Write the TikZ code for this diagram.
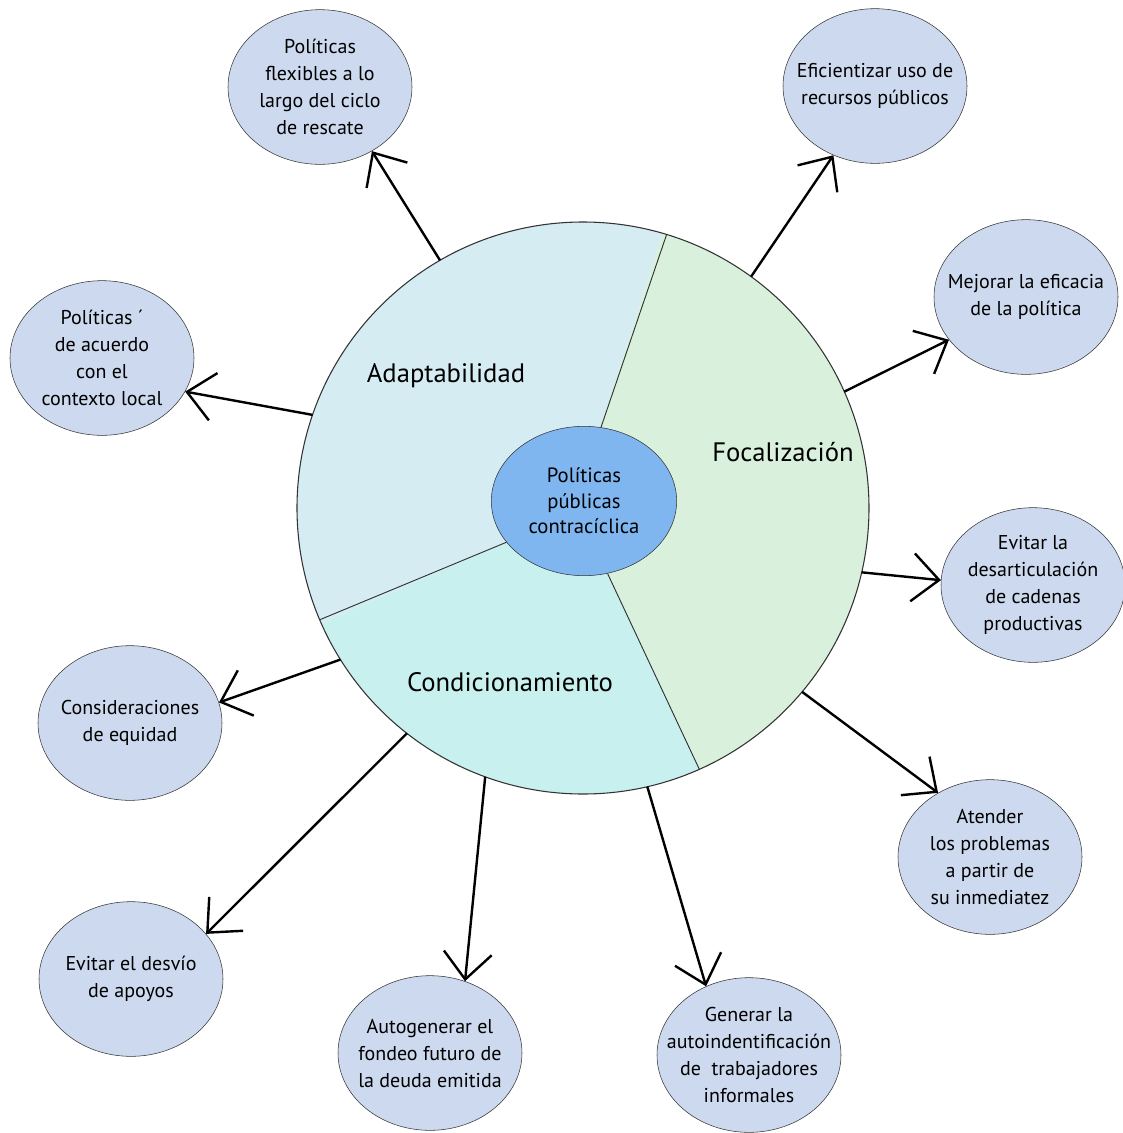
\documentclass[tikz,border=0pt]{standalone}
\usepackage{fontspec}
\setmainfont{PT Sans}
\usetikzlibrary{shapes.geometric,arrows.meta,backgrounds}
\definecolor{bubblefill}{HTML}{CDD9EE}
\definecolor{hubfill}{HTML}{7FB6EF}
\definecolor{adaptfill}{HTML}{D6ECF3}
\definecolor{condfill}{HTML}{C8F0EE}
\definecolor{focfill}{HTML}{D9F1DC}
\newcommand{\bubblefont}{\fontsize{15}{20.25}\selectfont}
\newcommand{\hubfont}{\fontsize{15.5}{19}\selectfont}
\newcommand{\rescbubble}[3] {\node at (#1) (#2) [bubble] {#3};}
\newcommand{\rescarrow}[2] {\draw [outarrow] (#1) -- (#2);}
\newcommand{\rescdivider}[2] {\draw [divider] (#1) -- (#2);}
\newcommand{\rescsector}[5] {\fill [#1] (hub.#2) -- ([shift={(#4:214.5pt)}]ring.center) arc [start angle=#4, end angle=#5, radius=214.5pt] -- (hub.#3) -- (hub.center) -- cycle;}

\begin{document}
\begin{tikzpicture}[x=0.75pt, y=0.75pt,
  bubble/.style={ellipse, draw=black!80, fill=bubblefill, minimum width=138pt, minimum height=116pt, inner xsep=-18pt, inner ysep=0pt, align=center, font=\bubblefont},
  outarrow/.style={-{Straight Barb[length=20pt,width=36pt]}, line width=1.8pt},
  divider/.style={draw=black!80, line width=0.7pt},
  seclabel/.style={font=\fontsize{20}{24}\selectfont}]

\useasboundingbox (0,0) rectangle (1123,-1133);

\node at (583,-508) (ring) [circle, draw=black!80, line width=0.8pt, minimum size=429pt, inner sep=0pt, outer sep=0pt] {};
\node at (584,-501) (hub) [ellipse, draw=black!80, fill=hubfill, minimum width=139pt, minimum height=112pt, inner xsep=-20pt, inner ysep=0pt, align=center, font=\hubfont] {Políticas\\públicas\\contracíclica};

% the three sectors
\begin{pgfonlayer}{background}
\rescsector {adaptfill}{77.6}{208}{73.8}{203.8}
\rescsector {condfill}{208}{288.7}{203.8}{294.2}
\rescsector {focfill}{288.7}{77.6}{294.2}{433.8}
\end{pgfonlayer}

\rescdivider {hub.77.6}{ring.73.8}
\rescdivider {hub.208}{ring.203.8}
\rescdivider {hub.288.7}{ring.294.2}

\node at (446,-376) (adapt) [seclabel] {Adaptabilidad};
\node at (783,-452) (focal) [seclabel] {Focalización};
\node at (510,-682) (condic) [seclabel] {Condicionamiento};

\rescbubble {320,-87}{flexible}{Políticas\\flexibles a lo\\largo del ciclo\\de rescate}
\rescbubble {875,-86}{efficiency}{Eficientizar uso de\\recursos públicos}
\rescbubble {1026,-297}{efficacy}{Mejorar la eficacia\\de la política}
\rescbubble {102,-358}{localctx}{Políticas ´\\de acuerdo\\con el\\contexto local}
\rescbubble {1033,-585}{chains}{Evitar la\\desarticulación\\de cadenas\\productivas}
\rescbubble {130,-723}{equity}{Consideraciones\\de equidad}
\rescbubble {990,-857}{immediacy}{Atender\\los problemas\\a partir de\\su inmediatez}
\rescbubble {131,-979}{diversion}{Evitar el desvío\\de apoyos}
\rescbubble {430,-1053}{funding}{Autogenerar el\\fondeo futuro de\\la deuda emitida}
\rescbubble {749,-1055}{selfid}{Generar la\\autoindentificación\\de~~trabajadores\\informales}

\rescarrow {ring.120.1}{flexible.-51}
\rescarrow {ring.54.4}{efficiency.-121}
\rescarrow {ring.24.6}{efficacy.209.5}
\rescarrow {ring.161.8}{localctx.-22}
\rescarrow {ring.-13.2}{chains.177}
\rescarrow {ring.212.4}{equity.13.2}
\rescarrow {ring.-40.9}{immediacy.129.4}
\rescarrow {ring.232.1}{diversion.31.8}
\rescarrow {ring.-110.6}{funding.64.4}
\rescarrow {ring.-77}{selfid.122.6}
\end{tikzpicture}
\end{document}
